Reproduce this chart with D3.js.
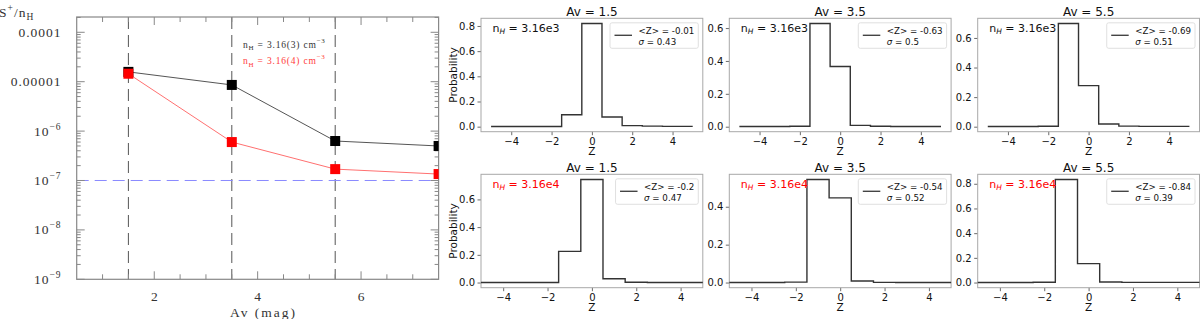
<!DOCTYPE html>
<html><head><meta charset="utf-8">
<script src="https://cdn.jsdelivr.net/npm/d3@7"></script>
<style>body{margin:0;background:#fff} svg{display:block}</style>
</head><body><svg id="c" width="1200" height="319"></svg>
<script>
// ---------------- data: left panel ----------------
const avPoints = [1.5, 3.5, 5.5, 7.5];
const sLowDensity = [1.58e-5, 8.6e-6, 6.3e-7, 5.0e-7];      // nH = 3.16(3)
const sHighDensity = [1.45e-5, 6.0e-7, 1.7e-7, 1.35e-7];    // nH = 3.16(4)
const markerAv = [1.5, 3.5, 5.5];
const referenceAbundance = 1e-7;
const leftYTickValues = [1e-9, 1e-8, 1e-7, 1e-6, 1e-5, 1e-4];
const leftYTickLabels = ["10^−9", "10^−8", "10^−7", "10^−6", "0.00001", "0.0001"];
const leftXTickValues = [2, 4, 6];
const legendLeft = [["n", "H", " =  3.16(3)  cm", "−3"], ["n", "H", " =  3.16(4)  cm", "−3"]];

// ---------------- data: right panels ----------------
const zBins = [-5, -4, -3, -2, -1, 0, 1, 2, 3, 4, 5];
const panelAvLabels = ["Av = 1.5", "Av = 3.5", "Av = 5.5"];
const densityLabels = ["3.16e3", "3.16e4"];
const probLowAv15 = [0.001, 0.001, 0.001, 0.001, 0.095, 0.82, 0.077, 0.008, 0.004, 0.002, 0.002];
const probLowAv35 = [0.001, 0.001, 0.001, 0.003, 0.628, 0.366, 0.008, 0.003, 0.001, 0.001, 0.001];
const probLowAv55 = [0.001, 0.001, 0.001, 0.003, 0.698, 0.278, 0.018, 0.004, 0.002, 0.002, 0.002];
const probHighAv15 = [0.0, 0.0, 0.0, 0.0, 0.225, 0.744, 0.027, 0.002, 0.0, 0.0, 0.0];
const probHighAv35 = [0.0, 0.0, 0.0, 0.002, 0.544, 0.447, 0.008, 0.001, 0.0, 0.0, 0.0];
const probHighAv55 = [0.0, 0.0, 0.0, 0.003, 0.835, 0.153, 0.005, 0.001, 0.001, 0.001, 0.001];
const meanLow = ["-0.01", "-0.63", "-0.69"];
const sigmaLow = ["0.43", "0.5", "0.51"];
const meanHigh = ["-0.2", "-0.54", "-0.84"];
const sigmaHigh = ["0.47", "0.52", "0.39"];
const xTickValuesRight = [-4, -2, 0, 2, 4];

const svg = d3.select("#c");

// ================= LEFT PANEL =================
const L = {x0: 76.7, x1: 438.6, y0: 17, y1: 279.3};
const xL = d3.scaleLinear().domain([0.5, 7.5]).range([L.x0, L.x1]);
const yL = d3.scaleLog().domain([1e-9, 2.04e-4]).range([L.y1, L.y0]);
const serif = "Liberation Serif, DejaVu Serif, serif";
const frameC = "#888", textC = "#333";

svg.append("defs").append("clipPath").attr("id", "clipL")
  .append("rect").attr("x", L.x0).attr("y", L.y0).attr("width", L.x1 - L.x0).attr("height", L.y1 - L.y0);

const gL = svg.append("g");
// vertical dashed lines
gL.selectAll("line.vd").data(markerAv).join("line")
  .attr("x1", d => xL(d)).attr("x2", d => xL(d)).attr("y1", L.y0).attr("y2", L.y1)
  .attr("stroke", "#555").attr("stroke-width", 1).attr("stroke-dasharray", "12,6");
// horizontal blue dashed
gL.append("line").attr("x1", L.x0).attr("x2", L.x1)
  .attr("y1", yL(referenceAbundance)).attr("y2", yL(referenceAbundance))
  .attr("stroke", "#8a8aff").attr("stroke-width", 1).attr("stroke-dasharray", "12,6");

// ticks
const minorY = [];
for (let e = -9; e <= -4; e++) for (let m = 2; m <= 9; m++) { const v = m * Math.pow(10, e); if (v <= 2.04e-4) minorY.push(v); }
const tickG = gL.append("g").attr("stroke", frameC).attr("stroke-width", 1);
leftYTickValues.forEach(v => {
  tickG.append("line").attr("x1", L.x0).attr("x2", L.x0 + 8).attr("y1", yL(v)).attr("y2", yL(v));
  tickG.append("line").attr("x1", L.x1).attr("x2", L.x1 - 8).attr("y1", yL(v)).attr("y2", yL(v));
});
minorY.forEach(v => {
  tickG.append("line").attr("x1", L.x0).attr("x2", L.x0 + 4).attr("y1", yL(v)).attr("y2", yL(v));
  tickG.append("line").attr("x1", L.x1).attr("x2", L.x1 - 4).attr("y1", yL(v)).attr("y2", yL(v));
});
d3.range(1, 7.01, 0.5).forEach(v => {
  const major = leftXTickValues.includes(v);
  const len = major ? 8 : 5;
  tickG.append("line").attr("x1", xL(v)).attr("x2", xL(v)).attr("y1", L.y1).attr("y2", L.y1 - len);
  tickG.append("line").attr("x1", xL(v)).attr("x2", xL(v)).attr("y1", L.y0).attr("y2", L.y0 + len);
});
gL.append("rect").attr("x", L.x0).attr("y", L.y0).attr("width", L.x1 - L.x0).attr("height", L.y1 - L.y0)
  .attr("fill", "none").attr("stroke", frameC).attr("stroke-width", 1.2);

// y tick labels
leftYTickValues.forEach((v, i) => {
  const lab = leftYTickLabels[i];
  const t = gL.append("text").attr("x", 61.5).attr("y", yL(v) + 4.5).attr("text-anchor", "end")
    .attr("font-family", serif).attr("font-size", 13.5).attr("letter-spacing", 1).attr("fill", textC);
  if (lab.includes("^")) {
    const [b, s] = lab.split("^");
    t.append("tspan").text(b);
    t.append("tspan").attr("dy", -6).attr("font-size", 9.5).text(s);
  } else t.text(lab);
});
// x tick labels
leftXTickValues.forEach(v => {
  gL.append("text").attr("x", xL(v)).attr("y", 300.5).attr("text-anchor", "middle")
    .attr("font-family", serif).attr("font-size", 13.5).attr("fill", textC).text(v);
});
gL.append("text").attr("x", 263.5).attr("y", 316.5).attr("text-anchor", "middle")
  .attr("font-family", serif).attr("font-size", 13.5).attr("letter-spacing", 2).attr("fill", textC).text("Av (mag)");
// y title
const yt = gL.append("text").attr("x", -1).attr("y", 17).attr("font-family", serif).attr("font-size", 13.5)
  .attr("letter-spacing", 1).attr("fill", textC);
yt.append("tspan").text("S");
yt.append("tspan").attr("dy", -6).attr("font-size", 9.5).text("+");
yt.append("tspan").attr("dy", 6).text("/n");
yt.append("tspan").attr("dy", 3).attr("font-size", 9.5).text("H");

// series
const dataG = gL.append("g").attr("clip-path", "url(#clipL)");
const lineL = d3.line().x((d, i) => xL(avPoints[i])).y(d => yL(d));
dataG.append("path").datum(sLowDensity).attr("d", lineL).attr("fill", "none").attr("stroke", "#555").attr("stroke-width", 1);
dataG.append("path").datum(sHighDensity).attr("d", lineL).attr("fill", "none").attr("stroke", "#ff7070").attr("stroke-width", 1);
const sq = 10;
dataG.selectAll("rect.lo").data(sLowDensity).join("rect")
  .attr("x", (d, i) => xL(avPoints[i]) - sq / 2).attr("y", d => yL(d) - sq / 2)
  .attr("width", sq).attr("height", sq).attr("fill", "#000");
dataG.selectAll("rect.hi").data(sHighDensity).join("rect")
  .attr("x", (d, i) => xL(avPoints[i]) - sq / 2).attr("y", d => yL(d) - sq / 2)
  .attr("width", sq).attr("height", sq).attr("fill", "#ff0000");

// legend
legendLeft.forEach((parts, i) => {
  const t = gL.append("text").attr("x", 243).attr("y", 47.5 + i * 16.5)
    .attr("font-family", serif).attr("font-size", 9.5).attr("letter-spacing", 0.8)
    .attr("fill", i === 0 ? "#333" : "#ff3b3b");
  t.append("tspan").text(parts[0]);
  t.append("tspan").attr("dy", 2.5).attr("font-size", 7).text(parts[1]);
  t.append("tspan").attr("dy", -2.5).text(parts[2]);
  t.append("tspan").attr("dy", -5).attr("font-size", 7).text(parts[3]);
});

// ================= RIGHT PANELS =================
const sans = "DejaVu Sans, sans-serif";
const colX = [481, 729.3, 977.7];
const rowY = [18.3, 174.3];
const PW = 221.8, PH = 113.4;
const panels = [
  {row: 0, col: 0, p: probLowAv15, mean: meanLow[0], sig: sigmaLow[0]},
  {row: 0, col: 1, p: probLowAv35, mean: meanLow[1], sig: sigmaLow[1]},
  {row: 0, col: 2, p: probLowAv55, mean: meanLow[2], sig: sigmaLow[2]},
  {row: 1, col: 0, p: probHighAv15, mean: meanHigh[0], sig: sigmaHigh[0]},
  {row: 1, col: 1, p: probHighAv35, mean: meanHigh[1], sig: sigmaHigh[1]},
  {row: 1, col: 2, p: probHighAv55, mean: meanHigh[2], sig: sigmaHigh[2]},
];
const tickC = "#444", spineC = "#a8a8a8";
panels.forEach(P => {
  const x0 = colX[P.col], y0 = rowY[P.row];
  const g = svg.append("g").attr("transform", `translate(${x0},${y0})`);
  const xd = P.row === 0 ? [-5.5, 5.5] : [-5, 5];
  const x = d3.scaleLinear().domain(xd).range([0, PW]);
  const mx = d3.max(P.p), mn = d3.min(P.p);
  const pad = 0.05 * (mx - mn);
  const y = d3.scaleLinear().domain([mn - pad, mx + pad]).range([PH, 0]);

  const xa = g.append("g").attr("transform", `translate(0,${PH})`)
    .call(d3.axisBottom(x).tickValues(xTickValuesRight).tickSize(3.5).tickPadding(2.5).tickFormat(d3.format("d")));
  const yTicks = d3.range(0, mx + 1e-9, 0.2);
  const ya = g.append("g")
    .call(d3.axisLeft(y).tickValues(yTicks).tickSize(3.5).tickPadding(2.5).tickFormat(d3.format(".1f")));
  [xa, ya].forEach(a => {
    a.select(".domain").remove();
    a.selectAll("line").attr("stroke", tickC).attr("stroke-width", 0.8);
    a.selectAll("text").attr("font-family", sans).attr("font-size", 10).attr("fill", "#111");
  });
  g.append("rect").attr("width", PW).attr("height", PH).attr("fill", "none")
    .attr("stroke", spineC).attr("stroke-width", 1);

  const line = d3.line().curve(d3.curveStep).x((d, i) => x(zBins[i])).y(d => y(d));
  g.append("path").datum(P.p).attr("d", line).attr("fill", "none")
    .attr("stroke", "#333").attr("stroke-width", 1.4);

  // title, labels
  g.append("text").attr("x", PW / 2).attr("y", -2.5).attr("text-anchor", "middle")
    .attr("font-family", sans).attr("font-size", 12).attr("fill", "#111").text(panelAvLabels[P.col]);
  g.append("text").attr("x", PW / 2).attr("y", PH + 23).attr("text-anchor", "middle")
    .attr("font-family", sans).attr("font-size", 10.5).attr("fill", "#111").text("Z");
  if (P.col === 0) {
    g.append("text").attr("transform", `translate(-24,${PH / 2}) rotate(-90)`).attr("text-anchor", "middle")
      .attr("font-family", sans).attr("font-size", 10.5).attr("fill", "#111").text("Probability");
  }
  // nH label
  const nt = g.append("text").attr("x", 11.5).attr("y", 13.5).attr("font-family", sans).attr("font-size", 11)
    .attr("fill", P.row === 0 ? "#111" : "#ff0000");
  nt.append("tspan").text("n");
  nt.append("tspan").attr("dy", 2.5).attr("font-size", 7.5).attr("font-style", "italic").text("H");
  nt.append("tspan").attr("dy", -2.5).text(" = " + densityLabels[P.row]);

  // legend
  const lg = g.append("g");
  const box = lg.append("rect").attr("rx", 2).attr("ry", 2).attr("fill", "#fff").attr("fill-opacity", 0.8)
    .attr("stroke", "#d8d8d8").attr("stroke-width", 0.8);
  const t1 = lg.append("text").attr("font-family", sans).attr("font-size", 8.7).attr("fill", "#111")
    .text(`<Z> = ${P.mean}`);
  const t2 = lg.append("text").attr("font-family", sans).attr("font-size", 8.7).attr("fill", "#111");
  t2.append("tspan").attr("font-style", "italic").text("σ");
  t2.append("tspan").text(` = ${P.sig}`);
  const tw = Math.max(t1.node().getComputedTextLength(), t2.node().getComputedTextLength());
  const lw = 28.5 + tw + 4;
  const lx = PW - 4.5 - lw, ly = 4.5, lh = 25.5;
  box.attr("x", lx).attr("y", ly).attr("width", lw).attr("height", lh);
  t1.attr("x", lx + 28.5).attr("y", ly + 11);
  t2.attr("x", lx + 28.5).attr("y", ly + 22);
  lg.append("line").attr("x1", lx + 4.5).attr("x2", lx + 22).attr("y1", ly + 12.5).attr("y2", ly + 12.5)
    .attr("stroke", "#444").attr("stroke-width", 1.4);
});
</script></body></html>
